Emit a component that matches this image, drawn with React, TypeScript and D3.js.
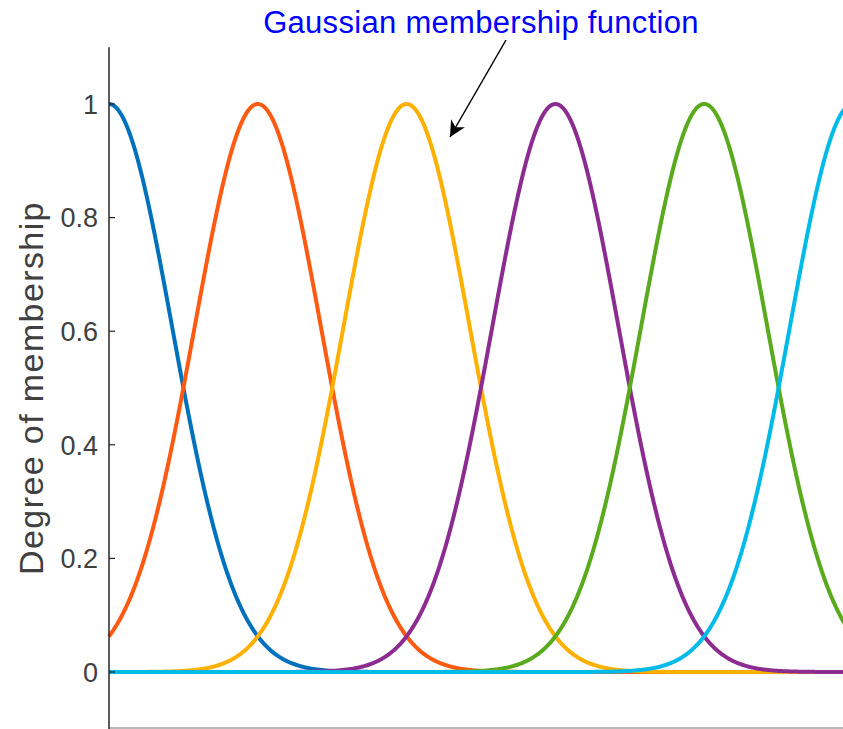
import React, { useEffect, useRef } from 'react'
import * as d3 from 'd3'

const WIDTH = 843
const HEIGHT = 729

// membership function parameters
const centers = [0, 1, 2, 3, 4, 5]
const sigmas = [0.425, 0.425, 0.425, 0.425, 0.425, 0.425]
const colors = ['#0072BD', '#FF5A12', '#FFB000', '#8C2C90', '#5AAA1E', '#00BAE8']
const yTicks = [0, 0.2, 0.4, 0.6, 0.8, 1]
const yTickLabels = ['0', '0.2', '0.4', '0.6', '0.8', '1']
const xDomain = [0, 5]
const yDomain = [-0.1, 1.1]
const annotation = 'Gaussian membership function'
const yLabel = 'Degree of membership'

const FONT = '"Liberation Sans", Arial, sans-serif'

export default function App() {
  const ref = useRef<SVGSVGElement>(null)

  useEffect(() => {
    const svg = d3.select(ref.current)
    svg.selectAll('*').remove()

    const left = 109
    const xScale = d3.scaleLinear().domain(xDomain).range([left, 853])
    const yScale = d3.scaleLinear().domain(yDomain).range([728.8, 47.2])

    const defs = svg.append('defs')
    defs.append('marker')
      .attr('id', 'arrowhead')
      .attr('viewBox', '0 0 10 10')
      .attr('refX', 10)
      .attr('refY', 5)
      .attr('markerWidth', 22)
      .attr('markerHeight', 16)
      .attr('markerUnits', 'userSpaceOnUse')
      .attr('orient', 'auto')
      .append('path')
      .attr('d', 'M0,0 L10,5 L0,10 L3,5 Z')
      .attr('fill', '#000')

    // curves, sampled along the x domain
    const xs = d3.range(0, 1001).map((i) => xDomain[0] + (xDomain[1] - xDomain[0]) * i / 1000)

    const curves = svg.append('g').attr('class', 'curves')
    centers.forEach((c, i) => {
      const s = sigmas[i]
      curves.append('path')
        .datum(xs)
        .attr('fill', 'none')
        .attr('stroke', colors[i])
        .attr('stroke-width', 4)
        .attr('stroke-linejoin', 'round')
        .attr('d', d3.line<number>()
          .x((d) => xScale(d))
          .y((d) => yScale(Math.exp(-((d - c) ** 2) / (2 * s * s)))))
    })

    // axes
    const axes = svg.append('g').attr('class', 'axes')
    axes.append('line')
      .attr('x1', left).attr('x2', WIDTH)
      .attr('y1', 728).attr('y2', 728)
      .attr('stroke', '#a0a0a0').attr('stroke-width', 1.5)
    axes.append('line')
      .attr('x1', left).attr('x2', left)
      .attr('y1', yScale(1.1)).attr('y2', HEIGHT)
      .attr('stroke', '#262626').attr('stroke-width', 1.5)

    axes.selectAll('.tick')
      .data(yTicks)
      .enter()
      .append('line')
      .attr('class', 'tick')
      .attr('x1', left).attr('x2', left + 6)
      .attr('y1', (d) => yScale(d)).attr('y2', (d) => yScale(d))
      .attr('stroke', '#262626').attr('stroke-width', 1.2)

    axes.selectAll('.ticklabel')
      .data(yTicks)
      .enter()
      .append('text')
      .attr('class', 'ticklabel')
      .attr('x', left - 11)
      .attr('y', (d) => yScale(d))
      .attr('dy', '0.36em')
      .attr('text-anchor', 'end')
      .attr('font-family', FONT)
      .attr('font-size', 27)
      .attr('fill', '#404040')
      .text((d, i) => yTickLabels[i])

    svg.append('text')
      .attr('transform', `translate(43, ${yScale(0.5)}) rotate(-90)`)
      .attr('text-anchor', 'middle')
      .attr('font-family', FONT)
      .attr('font-size', 34)
      .attr('letter-spacing', 1.4)
      .attr('fill', '#404040')
      .text(yLabel)

    // annotation
    svg.append('text')
      .attr('x', 481)
      .attr('y', 33)
      .attr('text-anchor', 'middle')
      .attr('font-family', FONT)
      .attr('font-size', 31)
      .attr('letter-spacing', 0.3)
      .attr('fill', '#0000FF')
      .text(annotation)

    svg.append('line')
      .attr('x1', 506).attr('y1', 40)
      .attr('x2', 450).attr('y2', 137)
      .attr('stroke', '#000').attr('stroke-width', 1.5)
      .attr('marker-end', 'url(#arrowhead)')
  }, [])

  return (
    <svg
      ref={ref}
      width={WIDTH}
      height={HEIGHT}
      style={{ position: 'absolute', left: 0, top: 0, background: '#fff' }}
    ></svg>
  )
}
